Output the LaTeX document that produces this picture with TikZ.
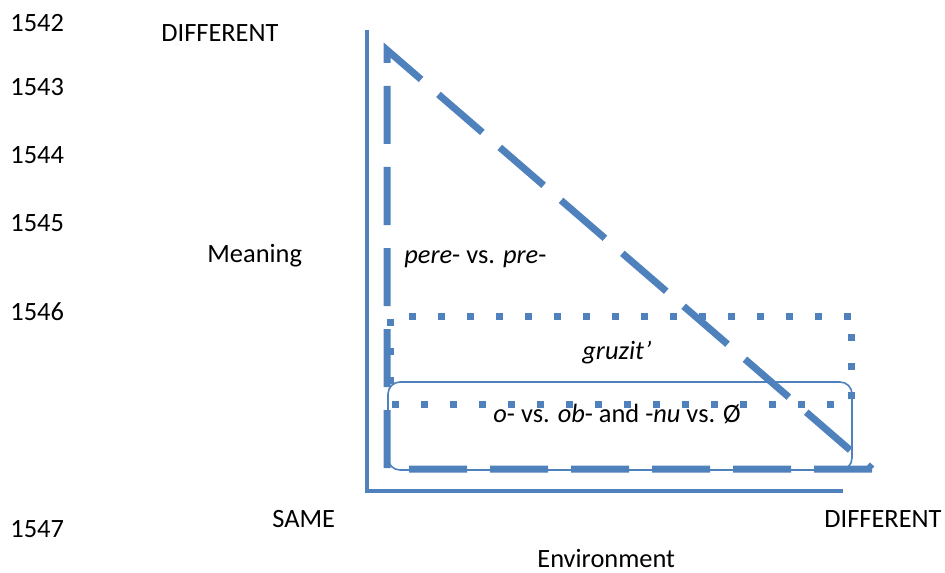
\documentclass[tikz,border=0pt]{standalone}
\usepackage{fontspec}
\setmainfont{Carlito}
\usetikzlibrary{positioning}
\definecolor{azul}{HTML}{4F81BD}

\begin{document}
\begin{tikzpicture}[x=0.5pt, y=-0.5pt, font=\fontsize{13.2}{16}\selectfont,
    lbl/.style={inner sep=0pt, anchor=base west},
    ejes/.style={draw=azul, line width=2.25pt, line join=miter},
    trig/.style={draw=azul, line width=3.5pt, dash pattern=on 29pt off 11.5pt, line join=miter},
    puntos/.style={draw=azul, line width=3.5pt, dash pattern=on 3.5pt off 11pt},
    caja/.style={draw=azul, line width=0.8pt, rounded corners=6pt}]
    \useasboundingbox (0,0) rectangle (945,572);
    % years down the margin
    \foreach \yr/\yb in {1542/32, 1543/96, 1544/163, 1545/231, 1546/320, 1547/537}
      \node[lbl] (a\yr) at (10,\yb) {\yr};
    % axes
    \coordinate (o) at (367,491);
    \draw[ejes] (367,30) -- (o) -- (843,491);
    \node[lbl] (ydiff) at (161,42) {DIFFERENT};
    \node[lbl] (ymean) at (207,262) {Meaning};
    \node[lbl] (xsame) at (272,527) {SAME};
    \node[lbl] (xdiff) at (824,527) {DIFFERENT};
    \node[lbl] (xenv) at (537,567) {Environment};
    % regions
    \coordinate (top) at (387,50);
    \coordinate (bl) at (387,469);
    \coordinate (br) at (872,469);
    \draw[trig] (br) -- (bl) -- (top) -- cycle;
    \draw[puntos] (851,316) -- (390,316) -- (390,404) -- (851,404) -- cycle;
    \draw[caja] (388,382) rectangle (852,470);
    \node[lbl] (pere) at (404,263) {\textit{pere}- vs. \textit{pre}-};
    \node[lbl] (gruz) at (582,359) {\textit{gruzit’}};
    \node[lbl] (obnu) at (493,422) {\textit{o}- vs. \textit{ob}- and -\textit{nu} vs. Ø};
\end{tikzpicture}
\end{document}
